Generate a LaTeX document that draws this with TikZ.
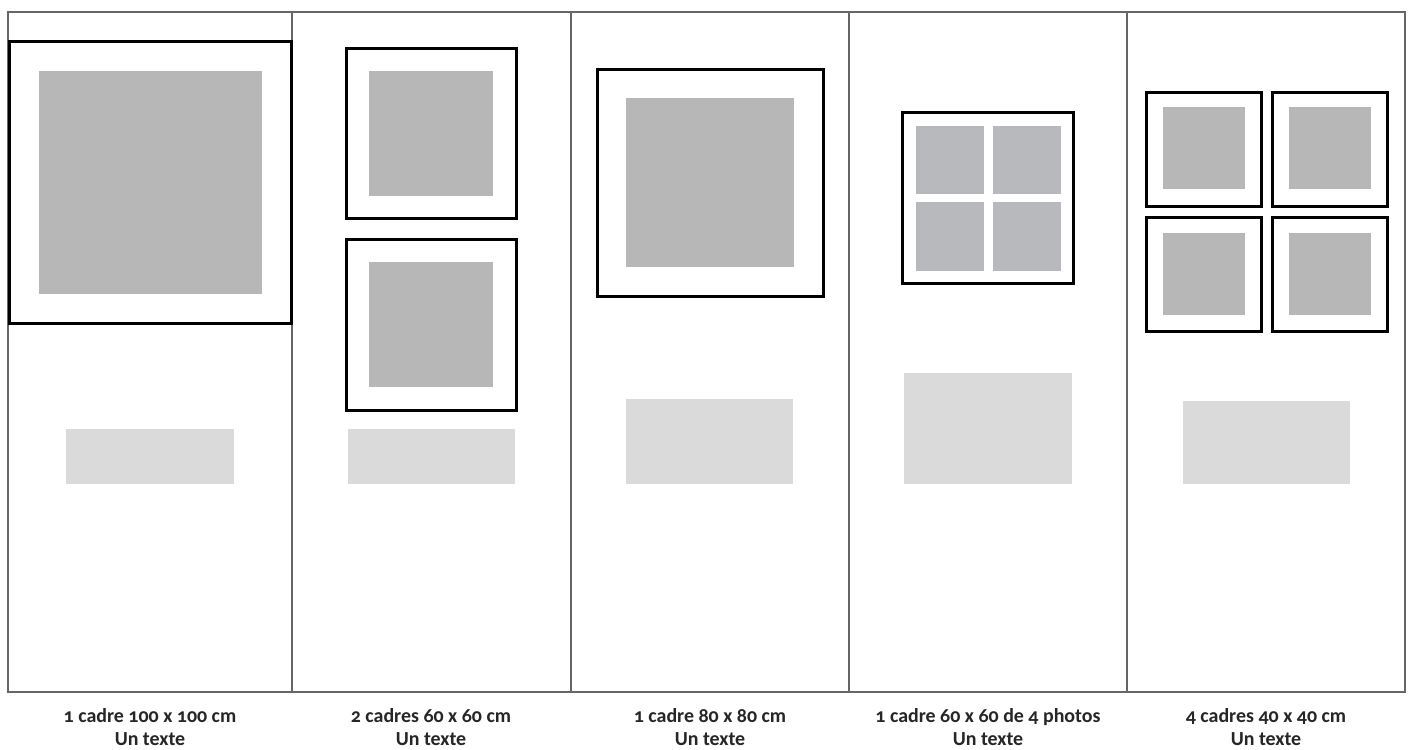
\documentclass[tikz,border=0pt]{standalone}
\usepackage{fontspec}
\setmainfont{Carlito}[Numbers=OldStyle]
\begin{document}
\begin{tikzpicture}[x=1bp,y=-1bp,
  panel/.style={draw=black!60,line width=1.3bp},
  frame/.style={draw=black,line width=3bp,fill=white},
  photo/.style={fill=photogrey},
  photob/.style={fill=photoblue},
  label/.style={fill=labelgrey},
  caption/.style={font=\fontsize{20}{23}\selectfont\bfseries,text=black!85,align=center,anchor=north,inner sep=0pt}]
\definecolor{photogrey}{HTML}{B7B7B7}
\definecolor{photoblue}{HTML}{B8B9BD}
\definecolor{labelgrey}{HTML}{DADADA}
\useasboundingbox[fill=white] (0,0) rectangle (1413,749);
% panels
\draw[panel] (8,12) rectangle (1405,692);
\foreach \xx in {292,571,849,1127} \draw[panel] (\xx,12) -- (\xx,692);
% panel 1
\path[frame] (9,42) rectangle (291,323);
\path[photo] (39,71) rectangle (262,294);
\path[label] (66,429) rectangle (234,484);
% panel 2
\path[frame] (346,49) rectangle (516,218);
\path[photo] (369,71) rectangle (493,196);
\path[frame] (346,239) rectangle (516,410);
\path[photo] (369,262) rectangle (493,387);
\path[label] (348,429) rectangle (515,484);
% panel 3
\path[frame] (597,69) rectangle (823,296);
\path[photo] (626,98) rectangle (794,267);
\path[label] (626,399) rectangle (793,484);
% panel 4
\path[frame] (902,112) rectangle (1073,283);
\path[photob] (916,126) rectangle (984,194);
\path[photob] (993,126) rectangle (1061,194);
\path[photob] (916,202) rectangle (984,271);
\path[photob] (993,202) rectangle (1061,271);
\path[label] (904,373) rectangle (1072,484);
% panel 5
\path[frame] (1146,92) rectangle (1261,206);
\path[photo] (1163,107) rectangle (1245,189);
\path[frame] (1272,92) rectangle (1387,206);
\path[photo] (1289,107) rectangle (1371,189);
\path[frame] (1146,217) rectangle (1261,331);
\path[photo] (1163,233) rectangle (1245,315);
\path[frame] (1272,217) rectangle (1387,331);
\path[photo] (1289,233) rectangle (1371,315);
\path[label] (1183,401) rectangle (1350,484);
% captions
\node[caption] (c1) at (150,708) {1 cadre 100 x 100 cm\\Un texte};
\node[caption] (c2) at (431,708) {2 cadres 60 x 60 cm\\Un texte};
\node[caption] (c3) at (710,708) {1 cadre 80 x 80 cm\\Un texte};
\node[caption] (c4) at (988,708) {1 cadre 60 x 60 de 4 photos\\Un texte};
\node[caption] (c5) at (1266,708) {4 cadres 40 x 40 cm\\Un texte};
\end{tikzpicture}
\end{document}
